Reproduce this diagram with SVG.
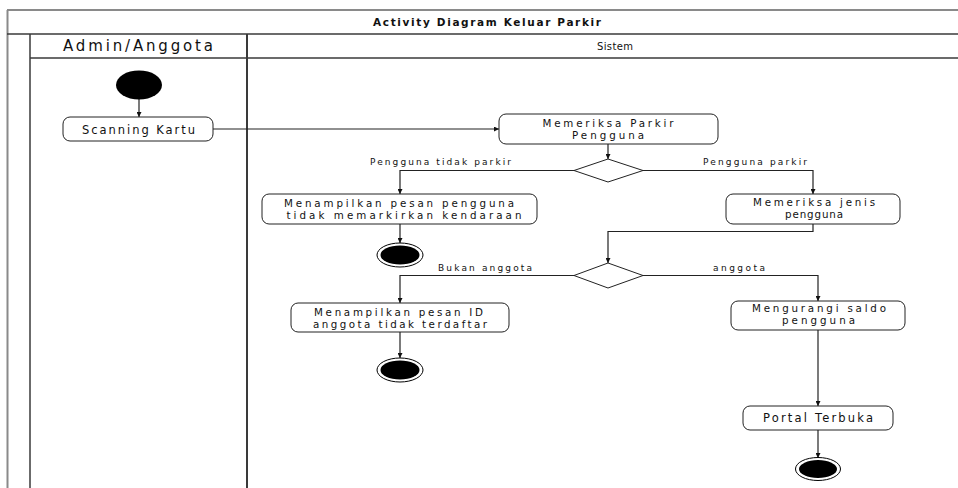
<svg xmlns="http://www.w3.org/2000/svg" width="958" height="488" viewBox="0 0 958 488">
  <style>
    .frame { fill: none; stroke: #3a3a3a; stroke-width: 1.5; }
    .frame-light { fill: none; stroke: #8a8a8a; stroke-width: 2; }
    .act { fill: #ffffff; stroke: #222222; stroke-width: 1; }
    .dec { fill: #ffffff; stroke: #222222; stroke-width: 1; }
    .flow { fill: none; stroke: #222222; stroke-width: 1.2; }
    .txt { font-family: "DejaVu Sans", "Liberation Sans", Arial, sans-serif; fill: #111111; text-anchor: middle; }
    .box { font-size: 11.5px; }
    .box2 { font-size: 10.3px; }
    .lbl { font-size: 9px; }
    .title { font-size: 10.5px; font-weight: bold; }
    .lane { font-size: 15px; }
    .lane-s { font-size: 10px; }
  </style>
  <defs>
    <marker id="arrow" viewBox="0 0 10 10" refX="10" refY="5" markerWidth="5" markerHeight="5" orient="auto" markerUnits="userSpaceOnUse">
      <path d="M0,0 L10,5 L0,10 z" fill="#111111"/>
    </marker>
  </defs>

  <rect width="958" height="488" fill="#ffffff"/>

  <!-- swimlane frame -->
  <g id="frame">
    <line class="frame-light" x1="7" y1="10" x2="958" y2="10"/>
    <line class="frame-light" x1="7.5" y1="10" x2="7.5" y2="488"/>
    <line class="frame" x1="7" y1="34" x2="958" y2="34"/>
    <line class="frame" x1="30" y1="34" x2="30" y2="488"/>
    <line class="frame" x1="30" y1="58" x2="958" y2="58"/>
    <line class="frame" x1="247" y1="34" x2="247" y2="488" style="stroke-width:2"/>
    <text class="txt title" x="487" y="26" textLength="228" lengthAdjust="spacing">Activity Diagram Keluar Parkir</text>
    <text class="txt lane" x="138" y="51" textLength="150" lengthAdjust="spacing">Admin/Anggota</text>
    <text class="txt lane-s" x="615" y="49.5" textLength="36" lengthAdjust="spacing">Sistem</text>
  </g>

  <!-- connectors -->
  <g id="connectors">
    <line class="flow" x1="139" y1="99" x2="139" y2="117" marker-end="url(#arrow)"/>
    <line class="flow" x1="213" y1="129" x2="499" y2="129" marker-end="url(#arrow)"/>
    <line class="flow" x1="608" y1="144" x2="608" y2="159" marker-end="url(#arrow)"/>
    <polyline class="flow" points="574,170.5 400,170.5 400,194" marker-end="url(#arrow)"/>
    <polyline class="flow" points="643,170.5 813,170.5 813,194" marker-end="url(#arrow)"/>
    <line class="flow" x1="400" y1="224" x2="400" y2="243" marker-end="url(#arrow)"/>
    <polyline class="flow" points="813,224 813,231.5 608,231.5 608,263" marker-end="url(#arrow)"/>
    <polyline class="flow" points="574,275.5 400,275.5 400,303" marker-end="url(#arrow)"/>
    <polyline class="flow" points="643,275.5 818,275.5 818,301" marker-end="url(#arrow)"/>
    <line class="flow" x1="400" y1="332" x2="400" y2="358" marker-end="url(#arrow)"/>
    <line class="flow" x1="818" y1="330" x2="818" y2="406" marker-end="url(#arrow)"/>
    <line class="flow" x1="818" y1="430" x2="818" y2="458" marker-end="url(#arrow)"/>
    <text class="txt lbl" x="440.5" y="164.5" textLength="141" lengthAdjust="spacing">Pengguna tidak parkir</text>
    <text class="txt lbl" x="755" y="164.5" textLength="104" lengthAdjust="spacing">Pengguna parkir</text>
    <text class="txt lbl" x="485" y="271" textLength="94" lengthAdjust="spacing">Bukan anggota</text>
    <text class="txt lbl" x="739" y="271" textLength="52" lengthAdjust="spacing">anggota</text>
  </g>

  <!-- start -->
  <g id="start">
    <ellipse cx="139" cy="85" rx="23" ry="14.5" fill="#000000"/>
  </g>

  <g id="scanning-kartu">
    <rect class="act" x="63" y="117" width="150" height="24" rx="7"/>
    <text class="txt box" x="138.5" y="133.5" textLength="113" lengthAdjust="spacing">Scanning Kartu</text>
  </g>

  <g id="memeriksa-parkir">
    <rect class="act" x="499" y="114" width="219" height="30" rx="7"/>
    <text class="txt box2" x="608" y="126.5" textLength="131" lengthAdjust="spacing">Memeriksa Parkir</text>
    <text class="txt box2" x="608" y="138.5" textLength="72" lengthAdjust="spacing">Pengguna</text>
  </g>

  <g id="decision-parkir">
    <polygon class="dec" points="608,159 643,170.5 608,182 574,170.5"/>
  </g>

  <g id="pesan-tidak-parkir">
    <rect class="act" x="262" y="194" width="275" height="30" rx="7"/>
    <text class="txt box2" x="399" y="206.5" textLength="230" lengthAdjust="spacing">Menampilkan pesan pengguna</text>
    <text class="txt box2" x="404" y="218.5" textLength="235" lengthAdjust="spacing">tidak memarkirkan kendaraan</text>
  </g>

  <g id="end-1">
    <ellipse cx="400" cy="255" rx="23" ry="12" fill="#ffffff" stroke="#000000" stroke-width="1"/>
    <ellipse cx="400" cy="255" rx="19.5" ry="9.5" fill="#000000"/>
  </g>

  <g id="memeriksa-jenis">
    <rect class="act" x="726" y="194" width="174" height="30" rx="7"/>
    <text class="txt box2" x="814" y="206" textLength="122" lengthAdjust="spacing">Memeriksa jenis</text>
    <text class="txt box2" x="814" y="218" textLength="58" lengthAdjust="spacing">pengguna</text>
  </g>

  <g id="decision-anggota">
    <polygon class="dec" points="608,263 643,275.5 608,288 574,275.5"/>
  </g>

  <g id="pesan-id">
    <rect class="act" x="291" y="303" width="218" height="29" rx="7"/>
    <text class="txt box2" x="398.5" y="315.5" textLength="169" lengthAdjust="spacing">Menampilkan pesan ID</text>
    <text class="txt box2" x="400" y="327.5" textLength="174" lengthAdjust="spacing">anggota tidak terdaftar</text>
  </g>

  <g id="end-2">
    <ellipse cx="400" cy="370" rx="23" ry="12" fill="#ffffff" stroke="#000000" stroke-width="1"/>
    <ellipse cx="400" cy="370" rx="19.5" ry="9.5" fill="#000000"/>
  </g>

  <g id="mengurangi-saldo">
    <rect class="act" x="731" y="301" width="174" height="29" rx="7"/>
    <text class="txt box2" x="819" y="312" textLength="134" lengthAdjust="spacing">Mengurangi saldo</text>
    <text class="txt box2" x="818.5" y="324" textLength="73" lengthAdjust="spacing">pengguna</text>
  </g>

  <g id="portal-terbuka">
    <rect class="act" x="743" y="406" width="150" height="24" rx="7"/>
    <text class="txt box" x="818" y="421.5" textLength="110" lengthAdjust="spacing">Portal Terbuka</text>
  </g>

  <g id="end-3">
    <ellipse cx="818" cy="469" rx="22.5" ry="11.5" fill="#ffffff" stroke="#000000" stroke-width="1"/>
    <ellipse cx="818" cy="469" rx="19" ry="9" fill="#000000"/>
  </g>
</svg>
